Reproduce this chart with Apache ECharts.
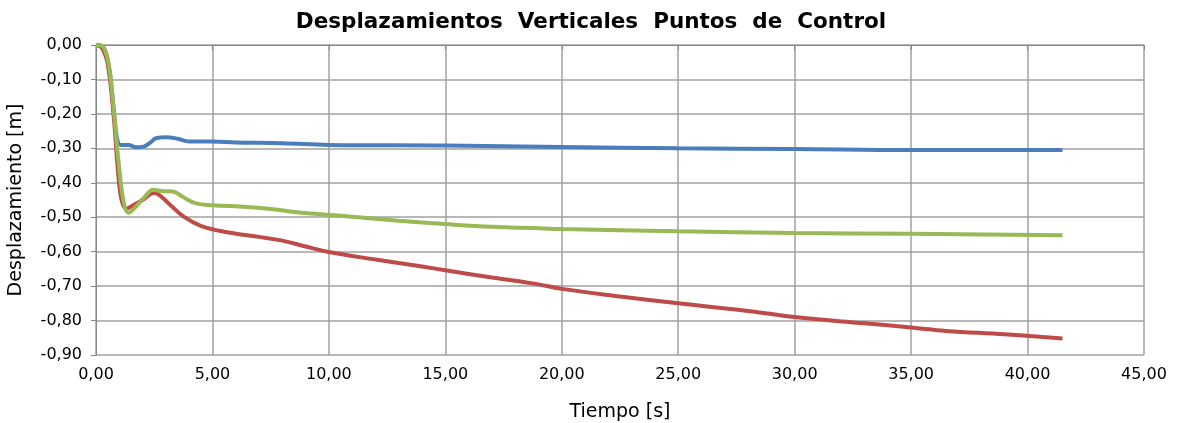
<!DOCTYPE html>
<html><head><meta charset="utf-8">
<script src="https://cdn.jsdelivr.net/npm/echarts@6/dist/echarts.min.js"></script>
<style>html,body{margin:0;padding:0;background:#fff}#c{width:1182px;height:423px}</style>
</head><body><div id="c"></div>
<script>
const xTicks = [0,5,10,15,20,25,30,35,40,45];
const blueT = [0,0.3,0.55,0.75,0.9,1.05,1.4,1.7,2.05,2.3,2.6,3.0,3.5,4.0,5,6,8,10,15,20,25,30,35,41.5];
const blueV = [0,-0.005,-0.06,-0.18,-0.27,-0.29,-0.29,-0.297,-0.295,-0.285,-0.27,-0.268,-0.272,-0.28,-0.28,-0.283,-0.285,-0.29,-0.292,-0.296,-0.30,-0.302,-0.305,-0.305];
const redT = [0,0.25,0.5,0.75,0.95,1.1,1.3,1.6,2.0,2.5,2.8,3.2,3.8,4.5,5.5,7,8,9,10,12,13,14,15,17,19,20,22.5,25,28,30,33,35,36.5,39,41.5];
const redV = [0,-0.008,-0.055,-0.2,-0.37,-0.45,-0.475,-0.465,-0.45,-0.43,-0.44,-0.465,-0.5,-0.525,-0.542,-0.557,-0.568,-0.585,-0.601,-0.623,-0.633,-0.643,-0.654,-0.675,-0.695,-0.708,-0.73,-0.75,-0.772,-0.79,-0.808,-0.82,-0.83,-0.84,-0.852];
const greenT = [0,0.3,0.55,0.75,0.97,1.2,1.4,1.7,2.1,2.45,2.8,3.3,3.7,4.3,5,6.5,7.5,9,10.5,13,15,17,20,25,30,35,41.5];
const greenV = [0,-0.005,-0.06,-0.18,-0.34,-0.46,-0.487,-0.47,-0.44,-0.42,-0.424,-0.425,-0.44,-0.46,-0.465,-0.47,-0.476,-0.488,-0.496,-0.51,-0.52,-0.528,-0.534,-0.541,-0.546,-0.548,-0.552];
const pairs = (t,v)=>t.map((x,i)=>[x,v[i]]);
const fmt = v => (Math.abs(v)<1e-9?0:v).toFixed(2).replace('.',',');
const chart = echarts.init(document.getElementById('c'));
const font = 'Verdana, "DejaVu Sans", sans-serif';
chart.setOption({
  animation:false,
  title:{text:'Desplazamientos  Verticales  Puntos  de  Control',left:'center',top:6,
    textStyle:{fontFamily:font,fontWeight:'bold',fontSize:21.5,color:'#000'}},
  grid:{left:96,right:38,top:45,bottom:68,outerBoundsMode:'none',containLabel:false},
  xAxis:{type:'value',min:0,max:45,interval:5,name:'Tiempo [s]',nameLocation:'middle',nameGap:48,
    nameTextStyle:{fontFamily:font,fontSize:19,color:'#000'},
    axisLine:{lineStyle:{color:'#868686'}},axisTick:{show:true,length:5,lineStyle:{color:'#868686'}},
    axisLabel:{formatter:fmt,fontFamily:font,fontSize:16,color:'#000',margin:12},
    splitLine:{show:true,lineStyle:{color:'#a0a0a0',width:1.5}}},
  yAxis:{type:'value',min:-0.9,max:0,interval:0.1,name:'Desplazamiento [m]',nameLocation:'middle',nameGap:70,
    nameTextStyle:{fontFamily:font,fontSize:19,color:'#000'},
    axisLine:{show:true,lineStyle:{color:'#868686'}},axisTick:{show:true,length:5,lineStyle:{color:'#868686'}},
    axisLabel:{formatter:fmt,fontFamily:font,fontSize:16,color:'#000',margin:14},
    splitLine:{show:true,lineStyle:{color:'#a0a0a0',width:1.5}}},
  series:[
    {type:'line',data:pairs(blueT,blueV),smooth:0.4,showSymbol:false,lineStyle:{color:'#4a7ebb',width:4},itemStyle:{color:'#4a7ebb'}},
    {type:'line',data:pairs(redT,redV),smooth:0.4,showSymbol:false,lineStyle:{color:'#be4b48',width:4},itemStyle:{color:'#be4b48'}},
    {type:'line',data:pairs(greenT,greenV),smooth:0.4,showSymbol:false,lineStyle:{color:'#98b954',width:4},itemStyle:{color:'#98b954'}}
  ]
});
</script></body></html>
